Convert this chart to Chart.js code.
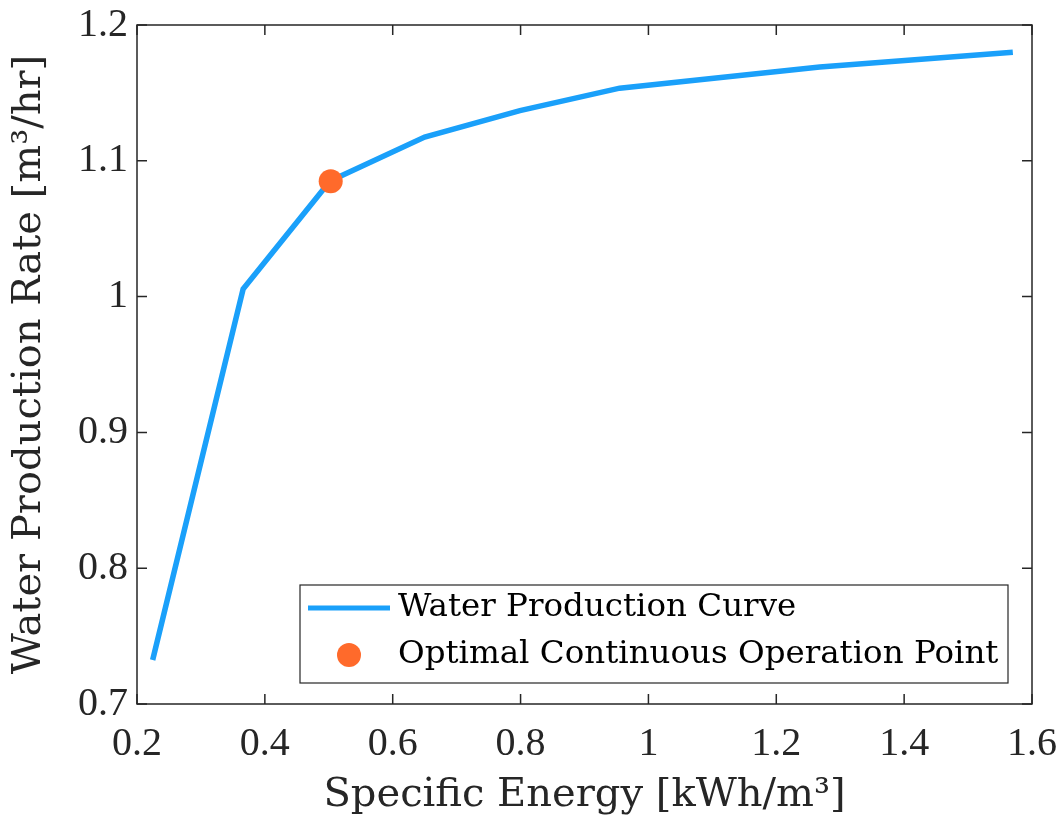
<!DOCTYPE html>
<html>
<head>
<meta charset="utf-8">
<script src="https://cdn.jsdelivr.net/npm/chart.js@4"></script>
<style>
  html, body { margin: 0; padding: 0; background: #fff; }
  canvas { display: block; }
</style>
</head>
<body>
<canvas id="energyChart" width="1062" height="822"></canvas>
<script>
// 比エネルギーと造水量の曲線データ
const specificEnergy = [0.2245, 0.366, 0.502, 0.650, 0.799, 0.955, 1.268, 1.570];
const productionRate = [0.7324, 1.0056, 1.0851, 1.1175, 1.137, 1.1535, 1.169, 1.180];

// 最適な連続運転点
const optimalEnergy = [0.503];
const optimalRate = [1.085];

const xTicks = [0.2, 0.4, 0.6, 0.8, 1, 1.2, 1.4, 1.6];
const yTicks = [0.7, 0.8, 0.9, 1, 1.1, 1.2];

const curveLabel = 'Water Production Curve';
const pointLabel = 'Optimal Continuous Operation Point';
const xTitle = 'Specific Energy [kWh/m\u00B3]';
const yTitle = 'Water Production Rate [m\u00B3/hr]';

const SERIF = '"Liberation Serif", "DejaVu Serif", serif';
const WIDE_SERIF = '"DejaVu Serif", "Liberation Serif", serif';
const LINE_COLOR = '#1aa0fa';
const DOT_COLOR = '#ff6a2b';

// 枠線と内向きの目盛り, 凡例を描くプラグイン
const frameAndLegend = {
    id: 'frameAndLegend',
    afterDatasetsDraw(chart) {
        const { ctx, chartArea: a, scales } = chart;
        const tick = 10;
        ctx.save();
        ctx.strokeStyle = '#262626';
        ctx.lineWidth = 1.5;
        ctx.strokeRect(a.left, a.top, a.right - a.left, a.bottom - a.top);
        ctx.beginPath();
        xTicks.forEach(v => {
            const px = scales.x.getPixelForValue(v);
            ctx.moveTo(px, a.bottom); ctx.lineTo(px, a.bottom - tick);
            ctx.moveTo(px, a.top); ctx.lineTo(px, a.top + tick);
        });
        yTicks.forEach(v => {
            const py = scales.y.getPixelForValue(v);
            ctx.moveTo(a.left, py); ctx.lineTo(a.left + tick, py);
            ctx.moveTo(a.right, py); ctx.lineTo(a.right - tick, py);
        });
        ctx.stroke();

        // 凡例 (右下の内側)
        const box = { x: 300, y: 585, w: 708, h: 98 };
        ctx.fillStyle = '#fff';
        ctx.fillRect(box.x, box.y, box.w, box.h);
        ctx.strokeStyle = '#262626';
        ctx.lineWidth = 1.2;
        ctx.strokeRect(box.x, box.y, box.w, box.h);

        const row1 = box.y + 23, row2 = box.y + 70;
        ctx.strokeStyle = LINE_COLOR;
        ctx.lineWidth = 5;
        ctx.beginPath();
        ctx.moveTo(box.x + 8, row1);
        ctx.lineTo(box.x + 90, row1);
        ctx.stroke();
        ctx.fillStyle = DOT_COLOR;
        ctx.beginPath();
        ctx.arc(box.x + 49, row2, 12, 0, Math.PI * 2);
        ctx.fill();

        ctx.fillStyle = '#000';
        ctx.font = '32.5px ' + WIDE_SERIF;
        ctx.textBaseline = 'middle';
        ctx.textAlign = 'left';
        ctx.fillText(chart.data.datasets[0].label, box.x + 98, row1);
        ctx.fillText(chart.data.datasets[1].label, box.x + 98, row2);
        ctx.restore();
    }
};

const config = {
    type: 'scatter',
    data: {
        datasets: [
            {
                label: curveLabel,
                data: specificEnergy.map((x, i) => ({ x: x, y: productionRate[i] })),
                showLine: true,
                borderColor: LINE_COLOR,
                borderWidth: 5.5,
                pointRadius: 0,
                fill: false,
                tension: 0,
                order: 2
            },
            {
                label: pointLabel,
                data: optimalEnergy.map((x, i) => ({ x: x, y: optimalRate[i] })),
                backgroundColor: DOT_COLOR,
                borderWidth: 0,
                pointRadius: 12,
                order: 1
            }
        ]
    },
    options: {
        responsive: false,
        animation: false,
        events: [],
        layout: { padding: { top: 25, right: 30, left: 0, bottom: 0 } },
        plugins: {
            legend: { display: false },
            tooltip: { enabled: false }
        },
        scales: {
            x: {
                type: 'linear',
                min: 0.2,
                max: 1.6,
                afterFit(scale) {
                    scale.height = 118;
                    scale.paddingLeft = 0;
                    scale.paddingRight = 0;
                },
                afterBuildTicks(scale) { scale.ticks = xTicks.map(v => ({ value: v })); },
                grid: { display: false, drawTicks: false },
                border: { display: false },
                ticks: {
                    color: '#262626',
                    padding: 16,
                    maxRotation: 0,
                    font: { family: SERIF, size: 40 },
                    callback: v => String(v)
                },
                title: {
                    display: true,
                    text: xTitle,
                    color: '#262626',
                    padding: { top: 0, bottom: 2 },
                    font: { family: WIDE_SERIF, size: 40 }
                }
            },
            y: {
                type: 'linear',
                min: 0.7,
                max: 1.2,
                afterFit(scale) {
                    scale.width = 137;
                    scale.paddingTop = 0;
                    scale.paddingBottom = 0;
                },
                afterBuildTicks(scale) { scale.ticks = yTicks.map(v => ({ value: v })); },
                grid: { display: false, drawTicks: false },
                border: { display: false },
                ticks: {
                    color: '#262626',
                    padding: 9,
                    font: { family: SERIF, size: 40 },
                    callback: v => String(v)
                },
                title: {
                    display: true,
                    text: yTitle,
                    color: '#262626',
                    padding: { top: 6, bottom: 0 },
                    font: { family: WIDE_SERIF, size: 40 }
                }
            }
        }
    },
    plugins: [frameAndLegend]
};

function drawChart() {
    const canvas = document.getElementById('energyChart');
    new Chart(canvas.getContext('2d'), config);
}

document.addEventListener('DOMContentLoaded', drawChart);
</script>
</body>
</html>
